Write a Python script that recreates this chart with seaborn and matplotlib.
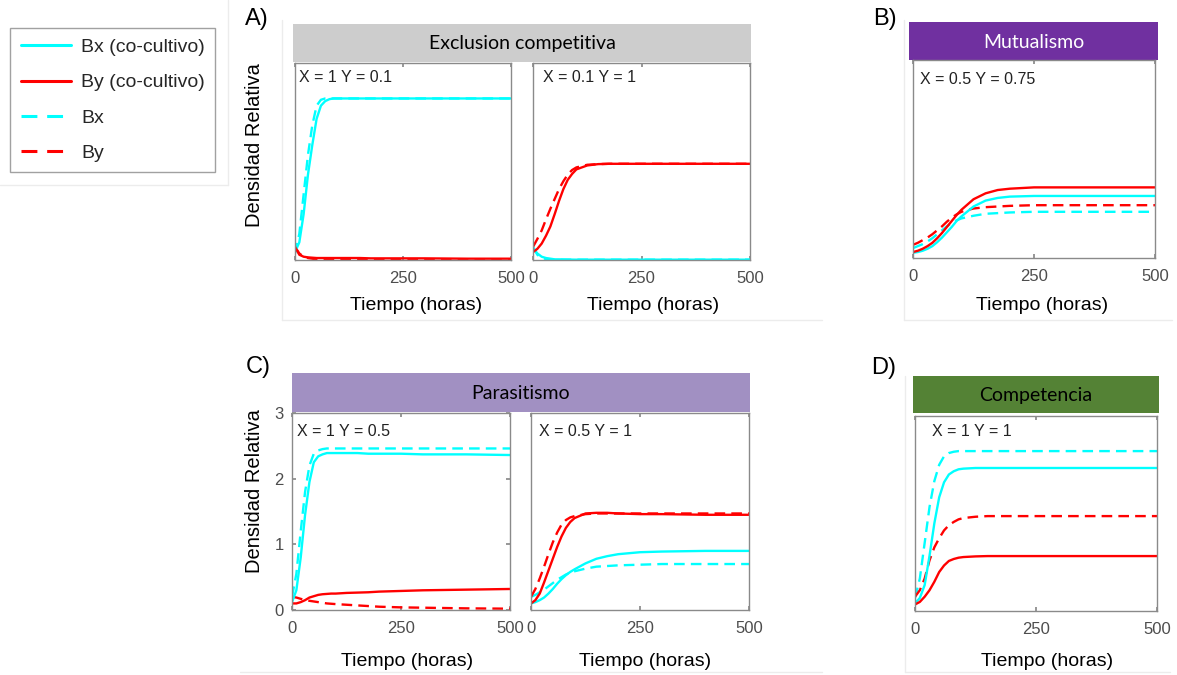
import numpy as np
import pandas as pd
import matplotlib
matplotlib.use("Agg")
import matplotlib.pyplot as plt
import seaborn as sns
from matplotlib.lines import Line2D
from matplotlib.patches import Rectangle

sns.set_theme(style="white")
plt.rcParams['font.family'] = ['Liberation Sans', 'DejaVu Sans']

# ---------------- data ----------------
TIME = [0, 10, 20, 30, 40, 50, 60, 70, 80, 90, 100, 125, 150, 175, 200, 250, 300, 400, 500]
X_TICKS = [0, 250, 500]
Y_TICKS = [0, 1, 2, 3]
LEGEND_LABELS = ["Bx (co-cultivo)", "By (co-cultivo)", "Bx", "By"]

# A) Exclusion competitiva, X = 1 Y = 0.1
A1_BX_CO = [0.12, 0.27, 0.70, 1.30, 1.75, 2.15, 2.35, 2.42, 2.45, 2.46, 2.46, 2.46, 2.46, 2.46, 2.46, 2.46, 2.46, 2.46, 2.46]
A1_BY_CO = [0.20, 0.08, 0.05, 0.04, 0.035, 0.03, 0.03, 0.03, 0.03, 0.03, 0.03, 0.03, 0.03, 0.025, 0.025, 0.025, 0.025, 0.02, 0.02]
A1_BX = [0.10, 0.40, 1.00, 1.60, 2.05, 2.35, 2.44, 2.46, 2.46, 2.46, 2.46, 2.46, 2.46, 2.46, 2.46, 2.46, 2.46, 2.46, 2.46]
A1_BY = [0.20, 0.10, 0.05, 0.03, 0.02, 0.01, 0.01, 0.008, 0.007, 0.006, 0.005, 0.005, 0.005, 0.005, 0.005, 0.005, 0.005, 0.005, 0.005]

# A) Exclusion competitiva, X = 0.1 Y = 1
A2_BX_CO = [0.18, 0.10, 0.05, 0.03, 0.02, 0.01, 0.01, 0.008, 0.007, 0.006, 0.005, 0.005, 0.005, 0.005, 0.005, 0.005, 0.005, 0.005, 0.005]
A2_BY_CO = [0.12, 0.17, 0.25, 0.37, 0.51, 0.70, 0.90, 1.08, 1.22, 1.31, 1.38, 1.44, 1.46, 1.465, 1.465, 1.465, 1.465, 1.465, 1.465]
A2_BX = [0.20, 0.08, 0.03, 0.015, 0.01, 0.005, 0.005, 0.005, 0.005, 0.005, 0.005, 0.005, 0.005, 0.005, 0.005, 0.005, 0.005, 0.005, 0.005]
A2_BY = [0.20, 0.32, 0.45, 0.62, 0.78, 0.93, 1.08, 1.20, 1.30, 1.37, 1.41, 1.45, 1.46, 1.465, 1.465, 1.465, 1.465, 1.465, 1.465]

# B) Mutualismo, X = 0.5 Y = 0.75
B_BX_CO = [0.08, 0.09, 0.11, 0.14, 0.18, 0.24, 0.31, 0.39, 0.47, 0.56, 0.63, 0.78, 0.87, 0.91, 0.93, 0.94, 0.94, 0.94, 0.94]
B_BY_CO = [0.09, 0.11, 0.14, 0.18, 0.23, 0.30, 0.38, 0.47, 0.56, 0.65, 0.73, 0.89, 0.98, 1.03, 1.05, 1.07, 1.07, 1.07, 1.07]
B_BX = [0.15, 0.18, 0.21, 0.25, 0.30, 0.36, 0.42, 0.48, 0.53, 0.57, 0.60, 0.64, 0.67, 0.68, 0.69, 0.70, 0.70, 0.70, 0.70]
B_BY = [0.20, 0.23, 0.27, 0.31, 0.36, 0.42, 0.48, 0.55, 0.61, 0.66, 0.70, 0.75, 0.77, 0.78, 0.79, 0.80, 0.80, 0.80, 0.80]

# C) Parasitismo, X = 1 Y = 0.5
C1_BX_CO = [0.12, 0.30, 0.80, 1.45, 1.95, 2.25, 2.34, 2.37, 2.39, 2.39, 2.39, 2.39, 2.39, 2.38, 2.38, 2.38, 2.37, 2.37, 2.36]
C1_BY_CO = [0.10, 0.10, 0.12, 0.15, 0.19, 0.21, 0.23, 0.24, 0.245, 0.25, 0.25, 0.26, 0.265, 0.27, 0.28, 0.29, 0.30, 0.31, 0.32]
C1_BX = [0.20, 0.55, 1.20, 1.80, 2.20, 2.38, 2.43, 2.45, 2.46, 2.46, 2.46, 2.46, 2.46, 2.46, 2.46, 2.46, 2.46, 2.46, 2.46]
C1_BY = [0.20, 0.19, 0.17, 0.15, 0.14, 0.13, 0.12, 0.11, 0.10, 0.095, 0.09, 0.08, 0.07, 0.06, 0.05, 0.04, 0.035, 0.025, 0.02]

# C) Parasitismo, X = 0.5 Y = 1
C2_BX_CO = [0.10, 0.12, 0.15, 0.19, 0.25, 0.32, 0.40, 0.47, 0.53, 0.58, 0.62, 0.71, 0.78, 0.82, 0.85, 0.88, 0.89, 0.90, 0.90]
C2_BY_CO = [0.10, 0.15, 0.25, 0.42, 0.60, 0.78, 0.96, 1.12, 1.25, 1.34, 1.40, 1.47, 1.48, 1.48, 1.47, 1.46, 1.46, 1.45, 1.45]
C2_BX = [0.20, 0.23, 0.27, 0.31, 0.36, 0.41, 0.46, 0.50, 0.54, 0.57, 0.59, 0.63, 0.66, 0.67, 0.68, 0.69, 0.70, 0.70, 0.70]
C2_BY = [0.20, 0.32, 0.48, 0.66, 0.85, 1.03, 1.18, 1.30, 1.37, 1.41, 1.43, 1.46, 1.47, 1.47, 1.47, 1.47, 1.47, 1.47, 1.47]

# D) Competencia, X = 1 Y = 1
D_BX_CO = [0.12, 0.20, 0.40, 0.85, 1.35, 1.75, 1.98, 2.10, 2.15, 2.18, 2.19, 2.20, 2.20, 2.20, 2.20, 2.20, 2.20, 2.20, 2.20]
D_BY_CO = [0.10, 0.14, 0.22, 0.32, 0.45, 0.60, 0.70, 0.77, 0.80, 0.82, 0.83, 0.84, 0.845, 0.845, 0.845, 0.845, 0.845, 0.845, 0.845]
D_BX = [0.20, 0.50, 1.05, 1.60, 2.00, 2.25, 2.38, 2.43, 2.45, 2.46, 2.46, 2.46, 2.46, 2.46, 2.46, 2.46, 2.46, 2.46, 2.46]
D_BY = [0.22, 0.32, 0.50, 0.78, 0.98, 1.12, 1.24, 1.32, 1.37, 1.41, 1.43, 1.45, 1.46, 1.46, 1.46, 1.46, 1.46, 1.46, 1.46]

# ---------------- layout helpers (pixels -> figure fraction) ----------------
W, H = 1177, 675
fig = plt.figure(figsize=(W / 100, H / 100), dpi=100, facecolor="white")


def fbox(x0, y0, x1, y1):
    return [x0 / W, 1 - y1 / H, (x1 - x0) / W, (y1 - y0) / H]


def fpt(x, y):
    return (x / W, 1 - y / H)


CYAN = "#00FFFF"
RED = "#FF0000"
SPINE = "#8a8a8a"
TICKC = "#4d4d4d"
LW = 1.7
DASH = (4.5, 2.6)


def long_frame(bx_co, by_co, bx, by):
    parts = []
    for sp, cult, vals in [("Bx", "mono", bx), ("By", "mono", by),
                           ("Bx", "co", bx_co), ("By", "co", by_co)]:
        parts.append(pd.DataFrame({"t": TIME, "v": vals, "sp": sp, "cult": cult,
                                   "key": sp + "-" + cult}))
    return pd.concat(parts, ignore_index=True)


panels = [
    # box, data, annotation, annot(x,y), xlabel center x, xlabel y, show y ticks
    ((295, 63, 511, 260), (A1_BX_CO, A1_BY_CO, A1_BX, A1_BY), "X = 1 Y = 0.1", (299, 78), 416, 305, False),
    ((533, 63, 750, 260), (A2_BX_CO, A2_BY_CO, A2_BX, A2_BY), "X = 0.1 Y = 1", (543, 78), 653, 305, False),
    ((913, 60, 1155, 258), (B_BX_CO, B_BY_CO, B_BX, B_BY), "X = 0.5 Y = 0.75", (920, 80), 1042, 305, False),
    ((292, 413, 510, 610), (C1_BX_CO, C1_BY_CO, C1_BX, C1_BY), "X = 1 Y = 0.5", (297, 432), 407, 662, True),
    ((531, 413, 749, 610), (C2_BX_CO, C2_BY_CO, C2_BX, C2_BY), "X = 0.5 Y = 1", (539, 432), 645, 662, False),
    ((915, 416, 1157, 611), (D_BX_CO, D_BY_CO, D_BX, D_BY), "X = 1 Y = 1", (932, 432), 1047, 662, False),
]

axes = []
for box, series, note, (nx, ny), xlx, xly, showy in panels:
    ax = fig.add_axes(fbox(*box))
    df = long_frame(*series)
    sns.lineplot(data=df, x="t", y="v", hue="key", style="key", ax=ax,
                 palette={"Bx-co": CYAN, "By-co": RED, "Bx-mono": CYAN, "By-mono": RED},
                 dashes={"Bx-co": "", "By-co": "", "Bx-mono": DASH, "By-mono": DASH},
                 linewidth=LW, legend=False, estimator=None, sort=False)
    ax.set_xlim(0, 500)
    ax.set_ylim(0, 3)
    ax.set_xticks(X_TICKS)
    ax.set_xticklabels([str(v) for v in X_TICKS])
    ax.tick_params(axis="x", direction="in", length=3, bottom=True, top=True,
                   labelsize=12, labelcolor=TICKC, color=SPINE, pad=8)
    if showy:
        ax.set_yticks(Y_TICKS)
        ax.set_yticklabels([str(v) for v in Y_TICKS])
        ax.tick_params(axis="y", direction="in", length=3, left=True, right=True,
                       labelsize=12, labelcolor=TICKC, color=SPINE, pad=6)
    else:
        ax.set_yticks([])
    for s in ax.spines.values():
        s.set_color(SPINE)
        s.set_linewidth(1.0)
    ax.set_xlabel("Tiempo (horas)", fontsize=14, color="black", va="center")
    ax.xaxis.set_label_coords(xlx / W, 1 - xly / H, transform=fig.transFigure)
    ax.set_ylabel("")
    fig.text(*fpt(nx, ny), note, fontsize=11.5, color="#222222", ha="left", va="center")
    axes.append(ax)

# y labels
for ax, (lx, ly) in [(axes[0], (255, 145)), (axes[3], (255, 491))]:
    ax.set_ylabel("Densidad Relativa", fontsize=14.5, color="black", va="center")
    ax.yaxis.set_label_coords(lx / W, 1 - ly / H, transform=fig.transFigure)

# title bars
bars = [
    ((293, 24, 751, 62), "#cdcdcd", "Exclusion competitiva", "black"),
    ((909, 22, 1158, 60), "#7030a0", "Mutualismo", "white"),
    ((292, 373, 750, 412), "#a190c2", "Parasitismo", "black"),
    ((913, 376, 1159, 413), "#548235", "Competencia", "black"),
]
for (x0, y0, x1, y1), col, txt, tcol in bars:
    b = fbox(x0, y0, x1, y1)
    fig.add_artist(Rectangle((b[0], b[1]), b[2], b[3], transform=fig.transFigure,
                             facecolor=col, edgecolor="none", zorder=0))
    fig.text(*fpt((x0 + x1) / 2, (y0 + y1) / 2 + 1), txt, fontsize=14, color=tcol,
             ha="center", va="center", family=["Lato", "DejaVu Sans"])

# panel letters
for (x, y), s in [((257, 19), "A)"), ((885, 19), "B)"), ((258, 367), "C)"), ((884, 368), "D)")]:
    fig.text(*fpt(x, y), s, fontsize=17, color="black", ha="center", va="center")

# faint frame lines of the composite
faint = "#ececec"
for (xa, ya, xb, yb) in [(228, 0, 228, 185), (0, 185, 228, 185),
                          (282, 20, 282, 320), (282, 320, 822, 320),
                          (904, 20, 904, 320), (904, 320, 1172, 320),
                          (905, 376, 905, 672), (905, 672, 1170, 672),
                          (240, 672, 822, 672)]:
    p0, p1 = fpt(xa, ya), fpt(xb, yb)
    fig.add_artist(Line2D([p0[0], p1[0]], [p0[1], p1[1]], transform=fig.transFigure,
                          color=faint, lw=1, zorder=0))

# legend
handles = [
    Line2D([], [], color=CYAN, lw=2.2),
    Line2D([], [], color=RED, lw=2.2),
    Line2D([], [], color=CYAN, lw=2.2, dashes=(5.2, 3.2)),
    Line2D([], [], color=RED, lw=2.2, dashes=(5.2, 3.2)),
]
leg = fig.legend(handles, LEGEND_LABELS, loc="upper left",
                 bbox_to_anchor=fpt(10, 28), fontsize=14, frameon=True,
                 fancybox=False, edgecolor="#8a8a8a", handlelength=2.6,
                 handletextpad=0.5, labelspacing=0.9, borderpad=0.55,
                 borderaxespad=0)
leg.get_frame().set_linewidth(1.0)

fig.savefig("out.png", dpi=100, facecolor="white")
